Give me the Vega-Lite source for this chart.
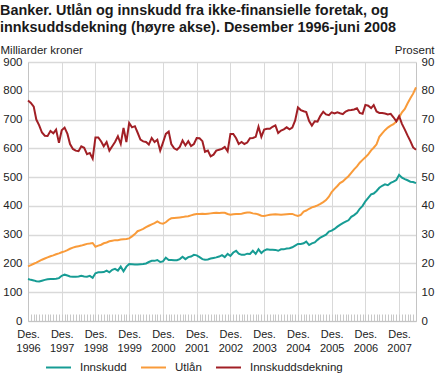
{
"$schema": "https://vega.github.io/schema/vega-lite/v6.json",
"width": 388, "height": 259,
"autosize": {"type": "none"},
"padding": {"left": 28, "top": 62, "right": 19, "bottom": 56},
"background": "white",
"config": {
 "view": {"stroke": null},
 "font": "Liberation Sans",
 "axis": {"labelFont": "Liberation Sans", "labelFontSize": 11.5, "labelColor": "#222", "titleFont": "Liberation Sans", "titleFontSize": 11.5, "titleFontWeight": "normal", "titleColor": "#222", "gridColor": "#d9d9d9", "domainColor": "#c4c4c4"},
 "legend": {"labelFont": "Liberation Sans", "labelFontSize": 11.5, "labelColor": "#222"}
},
"title": {"text": ["Banker. Utlån og innskudd fra ikke-finansielle foretak, og", "innksuddsdekning (høyre akse). Desember 1996-juni 2008"], "anchor": "start", "frame": "bounds", "font": "Liberation Sans", "fontSize": 14.4, "fontWeight": "bold", "lineHeight": 17, "color": "#1a1a1a", "offset": 9},
"data": {"values": [
{"dato":"1996-12","inn":146,"utl":190,"dek":76.6},
{"dato":"1997-01","inn":143,"utl":194,"dek":75.8},
{"dato":"1997-02","inn":141,"utl":199,"dek":74.5},
{"dato":"1997-03","inn":138,"utl":203,"dek":70},
{"dato":"1997-04","inn":137,"utl":208,"dek":68},
{"dato":"1997-05","inn":140,"utl":213,"dek":65.5},
{"dato":"1997-06","inn":143,"utl":217,"dek":64.4},
{"dato":"1997-07","inn":145,"utl":221,"dek":64.3},
{"dato":"1997-08","inn":146,"utl":225,"dek":66},
{"dato":"1997-09","inn":146,"utl":228,"dek":65.2},
{"dato":"1997-10","inn":147,"utl":232,"dek":66.5},
{"dato":"1997-11","inn":149,"utl":235,"dek":61.9},
{"dato":"1997-12","inn":157,"utl":239,"dek":66.3},
{"dato":"1998-01","inn":161,"utl":242,"dek":67.2},
{"dato":"1998-02","inn":158,"utl":246,"dek":65},
{"dato":"1998-03","inn":155,"utl":251,"dek":61.5},
{"dato":"1998-04","inn":154,"utl":255,"dek":59.8},
{"dato":"1998-05","inn":154,"utl":258,"dek":59.2},
{"dato":"1998-06","inn":155,"utl":260,"dek":59},
{"dato":"1998-07","inn":157,"utl":262,"dek":60.7},
{"dato":"1998-08","inn":155,"utl":265,"dek":60.2},
{"dato":"1998-09","inn":154,"utl":268,"dek":58},
{"dato":"1998-10","inn":157,"utl":269,"dek":58.4},
{"dato":"1998-11","inn":150,"utl":271,"dek":56.4},
{"dato":"1998-12","inn":166,"utl":258,"dek":63.8},
{"dato":"1999-01","inn":169,"utl":262,"dek":63.8},
{"dato":"1999-02","inn":169,"utl":265,"dek":62.4},
{"dato":"1999-03","inn":170,"utl":270,"dek":60.7},
{"dato":"1999-04","inn":175,"utl":273,"dek":62.2},
{"dato":"1999-05","inn":169,"utl":277,"dek":59.2},
{"dato":"1999-06","inn":178,"utl":279,"dek":60.7},
{"dato":"1999-07","inn":181,"utl":281,"dek":62.2},
{"dato":"1999-08","inn":175,"utl":281,"dek":64.2},
{"dato":"1999-09","inn":189,"utl":283,"dek":61.5},
{"dato":"1999-10","inn":173,"utl":284,"dek":67.1},
{"dato":"1999-11","inn":189,"utl":285,"dek":62.2},
{"dato":"1999-12","inn":198,"utl":287,"dek":68.8},
{"dato":"2000-01","inn":197,"utl":294,"dek":67.3},
{"dato":"2000-02","inn":196,"utl":302,"dek":67.7},
{"dato":"2000-03","inn":196,"utl":312,"dek":65.5},
{"dato":"2000-04","inn":197,"utl":316,"dek":63},
{"dato":"2000-05","inn":198,"utl":320,"dek":62.4},
{"dato":"2000-06","inn":200,"utl":326,"dek":62.2},
{"dato":"2000-07","inn":205,"utl":331,"dek":61.3},
{"dato":"2000-08","inn":209,"utl":336,"dek":63.6},
{"dato":"2000-09","inn":209,"utl":340,"dek":62.2},
{"dato":"2000-10","inn":212,"utl":346,"dek":63},
{"dato":"2000-11","inn":205,"utl":340,"dek":59.2},
{"dato":"2000-12","inn":207,"utl":338,"dek":62},
{"dato":"2001-01","inn":220,"utl":343,"dek":65},
{"dato":"2001-02","inn":212,"utl":352,"dek":65.8},
{"dato":"2001-03","inn":212,"utl":357,"dek":61.5},
{"dato":"2001-04","inn":211,"utl":358,"dek":60},
{"dato":"2001-05","inn":211,"utl":359,"dek":59.5},
{"dato":"2001-06","inn":215,"utl":360,"dek":60.5},
{"dato":"2001-07","inn":223,"utl":361,"dek":62.7},
{"dato":"2001-08","inn":215,"utl":363,"dek":61},
{"dato":"2001-09","inn":222,"utl":364,"dek":62.5},
{"dato":"2001-10","inn":224,"utl":367,"dek":60.8},
{"dato":"2001-11","inn":230,"utl":370,"dek":61.5},
{"dato":"2001-12","inn":228,"utl":372,"dek":63.6},
{"dato":"2002-01","inn":222,"utl":372,"dek":63.5},
{"dato":"2002-02","inn":215,"utl":373,"dek":62.5},
{"dato":"2002-03","inn":213,"utl":372,"dek":58.8},
{"dato":"2002-04","inn":214,"utl":373,"dek":59.2},
{"dato":"2002-05","inn":217,"utl":374,"dek":57.2},
{"dato":"2002-06","inn":219,"utl":375,"dek":57.8},
{"dato":"2002-07","inn":221,"utl":376,"dek":59.2},
{"dato":"2002-08","inn":224,"utl":375,"dek":59.5},
{"dato":"2002-09","inn":229,"utl":376,"dek":59.8},
{"dato":"2002-10","inn":222,"utl":376,"dek":60.5},
{"dato":"2002-11","inn":233,"utl":372,"dek":59},
{"dato":"2002-12","inn":226,"utl":369,"dek":65},
{"dato":"2003-01","inn":238,"utl":371,"dek":65},
{"dato":"2003-02","inn":244,"utl":372,"dek":63.5},
{"dato":"2003-03","inn":234,"utl":372,"dek":61.5},
{"dato":"2003-04","inn":230,"utl":373,"dek":62.2},
{"dato":"2003-05","inn":230,"utl":375,"dek":61.5},
{"dato":"2003-06","inn":234,"utl":377,"dek":62},
{"dato":"2003-07","inn":233,"utl":377,"dek":63.5},
{"dato":"2003-08","inn":244,"utl":374,"dek":63.6},
{"dato":"2003-09","inn":233,"utl":373,"dek":64},
{"dato":"2003-10","inn":249,"utl":370,"dek":67.5},
{"dato":"2003-11","inn":236,"utl":366,"dek":64},
{"dato":"2003-12","inn":245,"utl":365,"dek":66.5},
{"dato":"2004-01","inn":249,"utl":367,"dek":66.8},
{"dato":"2004-02","inn":248,"utl":369,"dek":66.8},
{"dato":"2004-03","inn":248,"utl":370,"dek":67.5},
{"dato":"2004-04","inn":247,"utl":371,"dek":68},
{"dato":"2004-05","inn":244,"utl":370,"dek":65.3},
{"dato":"2004-06","inn":249,"utl":369,"dek":66.2},
{"dato":"2004-07","inn":249,"utl":370,"dek":66.6},
{"dato":"2004-08","inn":252,"utl":371,"dek":67.3},
{"dato":"2004-09","inn":253,"utl":372,"dek":66.6},
{"dato":"2004-10","inn":256,"utl":372,"dek":67.2},
{"dato":"2004-11","inn":262,"utl":368,"dek":69.7},
{"dato":"2004-12","inn":268,"utl":365,"dek":74.2},
{"dato":"2005-01","inn":268,"utl":369,"dek":73.3},
{"dato":"2005-02","inn":270,"utl":380,"dek":72.9},
{"dato":"2005-03","inn":276,"utl":384,"dek":72.6},
{"dato":"2005-04","inn":264,"utl":390,"dek":69.5},
{"dato":"2005-05","inn":270,"utl":395,"dek":67.9},
{"dato":"2005-06","inn":273,"utl":398,"dek":69.4},
{"dato":"2005-07","inn":282,"utl":402,"dek":69.3},
{"dato":"2005-08","inn":290,"utl":407,"dek":71.3},
{"dato":"2005-09","inn":295,"utl":413,"dek":72.7},
{"dato":"2005-10","inn":300,"utl":420,"dek":71.8},
{"dato":"2005-11","inn":311,"utl":432,"dek":71.5},
{"dato":"2005-12","inn":314,"utl":448,"dek":72.5},
{"dato":"2006-01","inn":320,"utl":459,"dek":72.1},
{"dato":"2006-02","inn":328,"utl":469,"dek":72.5},
{"dato":"2006-03","inn":334,"utl":479,"dek":72.2},
{"dato":"2006-04","inn":340,"utl":485,"dek":71.9},
{"dato":"2006-05","inn":345,"utl":494,"dek":72.8},
{"dato":"2006-06","inn":350,"utl":503,"dek":73.2},
{"dato":"2006-07","inn":362,"utl":515,"dek":73.3},
{"dato":"2006-08","inn":368,"utl":527,"dek":73.5},
{"dato":"2006-09","inn":376,"utl":537,"dek":73.9},
{"dato":"2006-10","inn":390,"utl":550,"dek":72.3},
{"dato":"2006-11","inn":400,"utl":560,"dek":72},
{"dato":"2006-12","inn":416,"utl":569,"dek":75.1},
{"dato":"2007-01","inn":428,"utl":579,"dek":74.8},
{"dato":"2007-02","inn":440,"utl":593,"dek":74},
{"dato":"2007-03","inn":443,"utl":602,"dek":75},
{"dato":"2007-04","inn":452,"utl":614,"dek":72.8},
{"dato":"2007-05","inn":463,"utl":640,"dek":72.3},
{"dato":"2007-06","inn":470,"utl":652,"dek":72.3},
{"dato":"2007-07","inn":475,"utl":663,"dek":72.1},
{"dato":"2007-08","inn":472,"utl":672,"dek":71.8},
{"dato":"2007-09","inn":480,"utl":679,"dek":72},
{"dato":"2007-10","inn":484,"utl":684,"dek":70.8},
{"dato":"2007-11","inn":490,"utl":693,"dek":69.4},
{"dato":"2007-12","inn":508,"utl":707,"dek":71.2},
{"dato":"2008-01","inn":498,"utl":725,"dek":68.5},
{"dato":"2008-02","inn":493,"utl":737,"dek":66.5},
{"dato":"2008-03","inn":489,"utl":756,"dek":64.5},
{"dato":"2008-04","inn":484,"utl":774,"dek":62.5},
{"dato":"2008-05","inn":483,"utl":790,"dek":60.3},
{"dato":"2008-06","inn":479,"utl":812,"dek":59.5}
]},
"encoding": {
 "x": {"field": "dato", "type": "temporal", "scale": {"type": "utc"},
  "axis": {"title": null, "tickCount": {"interval": "month", "step": 1}, "tickSize": -7, "tickColor": "#c8c8c8",
   "gridOpacity": {"condition": {"test": "utcmonth(datum.value) == 11", "value": 1}, "value": 0},
   "labelExpr": "utcmonth(datum.value) == 11 ? ['Des.', '' + utcyear(datum.value)] : ''",
   "labelFontSize": 11, "labelOverlap": false, "labelFlush": false, "labelBound": false, "labelPadding": 14, "labelLineHeight": 14, "labelBaseline": "top"}}
},
"layer": [
 {"transform": [{"fold": ["inn", "utl"], "as": ["serie", "verdi"]}],
  "mark": {"type": "line", "strokeWidth": 2},
  "encoding": {
   "y": {"field": "verdi", "type": "quantitative", "scale": {"domain": [0, 900]},
    "axis": {"values": [0,100,200,300,400,500,600,700,800,900], "title": "Milliarder kroner", "titleAngle": 0, "titleAlign": "left", "titleBaseline": "alphabetic", "titleX": -28, "titleY": -9, "ticks": false, "labelPadding": 6, "gridWidth": 1.5}},
   "color": {"field": "serie", "type": "nominal",
    "scale": {"domain": ["inn", "utl", "dek"], "range": ["#179c94", "#f99b3a", "#a11f25"]},
    "legend": {"title": null, "orient": "none", "legendX": 17, "legendY": 292, "direction": "horizontal", "symbolType": "stroke", "symbolSize": 625, "symbolStrokeWidth": 2, "labelOffset": 8, "columnPadding": 10,
     "labelExpr": "datum.label == 'inn' ? 'Innskudd' : datum.label == 'utl' ? 'Utlån' : 'Innskuddsdekning'"}}
  }},
 {"mark": {"type": "line", "strokeWidth": 2},
  "encoding": {
   "y": {"field": "dek", "type": "quantitative", "scale": {"domain": [0, 90]},
    "axis": {"orient": "right", "values": [0,10,20,30,40,50,60,70,80,90], "title": "Prosent", "titleAngle": 0, "titleAlign": "right", "titleBaseline": "alphabetic", "titleX": 18, "titleY": -9, "ticks": false, "labelPadding": 5, "grid": false}},
   "color": {"datum": "dek"}
  }}
],
"resolve": {"scale": {"y": "independent"}}
}
